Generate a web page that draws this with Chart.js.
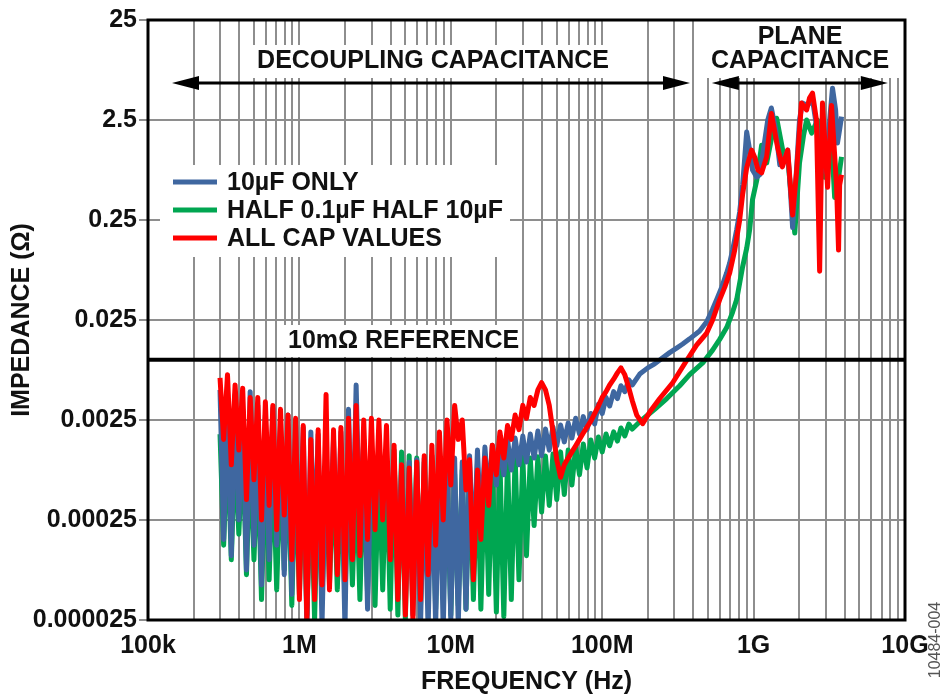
<!DOCTYPE html>
<html lang="en">
<head>
<meta charset="UTF-8">
<title>PDN Impedance</title>
<script src="https://cdn.jsdelivr.net/npm/chart.js"></script>
<style>
    body { margin: 0; background: #fff; }
</style>
</head>
<body>
<canvas id="impedanceChart" width="947" height="695"></canvas>
<script>
    // sweep frequencies (Hz) of the noisy low band, shared by the three traces
    const freqLow = [
        2.99e5, 3.16e5, 3.35e5, 3.55e5, 3.76e5, 3.98e5, 4.22e5, 4.47e5, 4.73e5, 5.01e5,
        5.31e5, 5.62e5, 5.96e5, 6.31e5, 6.68e5, 7.08e5, 7.50e5, 7.94e5, 8.41e5, 8.91e5,
        9.44e5, 1.00e6, 1.06e6, 1.12e6, 1.19e6, 1.26e6, 1.33e6, 1.41e6, 1.50e6, 1.58e6,
        1.68e6, 1.78e6, 1.88e6, 2.00e6, 2.11e6, 2.24e6, 2.37e6, 2.51e6, 2.66e6, 2.82e6,
        2.99e6, 3.16e6, 3.35e6, 3.55e6, 3.76e6, 3.98e6, 4.22e6, 4.47e6, 4.73e6, 5.01e6,
        5.31e6, 5.62e6, 5.96e6, 6.31e6, 6.68e6, 7.08e6, 7.50e6, 7.94e6, 8.41e6, 8.91e6,
        9.44e6, 1.00e7, 1.06e7, 1.12e7, 1.19e7, 1.26e7, 1.33e7, 1.41e7, 1.50e7, 1.58e7,
        1.68e7, 1.78e7, 1.88e7, 2.00e7, 2.11e7, 2.24e7, 2.37e7, 2.51e7, 2.66e7, 2.82e7,
        2.99e7, 3.16e7, 3.35e7, 3.55e7, 3.76e7, 3.98e7, 4.22e7, 4.47e7, 4.73e7, 5.01e7,
        5.31e7, 5.62e7, 5.96e7, 6.31e7, 6.68e7, 7.08e7, 7.50e7, 7.94e7, 8.41e7, 8.91e7,
        9.44e7, 1.00e8, 1.06e8, 1.12e8, 1.19e8, 1.26e8, 1.33e8, 1.41e8, 1.50e8, 1.58e8
    ];

    // impedance (ohm), alternating upper / lower edge of the noise
    const blueLowZ = [
        5.0e-3, 1.6e-4, 4.0e-3, 1.1e-4, 4.5e-3, 2.5e-4, 3.2e-3, 7.9e-5, 4.8e-3, 1.4e-4,
        3.5e-3, 5.6e-5, 2.8e-3, 1.0e-4, 3.3e-3, 1.4e-4, 2.5e-3, 7.1e-5, 2.8e-3, 4.5e-5,
        2.2e-3, 1.0e-4, 2.1e-3, 2.0e-5, 1.9e-3, 1.25e-4, 1.8e-3, 2.2e-5, 1.4e-3, 1.4e-4,
        1.6e-3, 1.0e-4, 1.9e-3, 2.0e-5, 3.2e-3, 1.0e-4, 5.6e-3, 1.6e-4, 1.6e-3, 3.2e-5,
        1.25e-3, 2.5e-4, 1.1e-3, 2.8e-4, 1.04e-3, 1.6e-4, 1.0e-3, 6.3e-5, 8.9e-4, 4.0e-5,
        9.5e-4, 2.8e-5, 1.0e-3, 2.2e-5, 1.04e-3, 2.0e-5, 1.1e-3, 2.2e-5, 1.1e-3, 2.0e-5,
        1.17e-3, 2.5e-5, 1.04e-3, 2.2e-5, 9.5e-4, 3.2e-5, 1.1e-3, 1.0e-4, 1.25e-3, 2.0e-4,
        1.34e-3, 4.0e-4, 1.4e-3, 5.6e-4, 1.5e-3, 7.1e-4, 1.6e-3, 7.9e-4, 1.65e-3, 8.9e-4,
        1.73e-3, 9.5e-4, 1.81e-3, 1.04e-3, 1.94e-3, 1.1e-3, 2.03e-3, 1.25e-3, 2.13e-3, 1.38e-3,
        2.23e-3, 1.51e-3, 2.33e-3, 1.65e-3, 2.6e-3, 1.81e-3, 2.7e-3, 2.0e-3, 2.9e-3, 2.28e-3,
        3.6e-3, 2.9e-3, 4.2e-3, 3.45e-3, 4.8e-3, 4.1e-3, 5.5e-3, 4.8e-3, 6.3e-3, 5.6e-3
    ];
    const greenLowZ = [
        1.8e-3, 1.4e-4, 1.6e-3, 1.0e-4, 1.4e-3, 1.8e-4, 1.5e-3, 7.1e-5, 1.25e-3, 1.0e-4,
        1.1e-3, 4.0e-5, 1.04e-3, 6.3e-5, 1.1e-3, 5.0e-5, 9.5e-4, 7.9e-5, 1.0e-3, 3.5e-5,
        8.9e-4, 4.5e-5, 8.3e-4, 2.8e-5, 7.9e-4, 2.5e-5, 7.1e-4, 4.0e-5, 7.6e-4, 5.6e-5,
        7.9e-4, 5.0e-5, 7.1e-4, 4.0e-5, 7.9e-4, 5.6e-5, 7.6e-4, 4.0e-5, 8.9e-4, 4.5e-5,
        9.5e-4, 3.5e-5, 1.0e-3, 5.0e-5, 1.1e-3, 3.2e-5, 1.25e-3, 2.8e-5, 1.2e-3, 2.5e-5,
        1.1e-3, 4.0e-5, 1.04e-3, 3.5e-5, 9.5e-4, 4.5e-5, 8.3e-4, 3.2e-5, 7.6e-4, 4.0e-5,
        7.1e-4, 2.8e-5, 7.2e-4, 3.5e-5, 7.9e-4, 3.2e-5, 8.7e-4, 4.0e-5, 9.1e-4, 3.2e-5,
        9.5e-4, 4.5e-5, 1.0e-3, 3.0e-5, 1.02e-3, 2.7e-5, 1.04e-3, 4.0e-5, 1.09e-3, 6.3e-5,
        1.07e-3, 1.1e-4, 1.04e-3, 2.2e-4, 1.07e-3, 3.0e-4, 1.09e-3, 3.5e-4, 1.14e-3, 4.0e-4,
        1.2e-3, 4.5e-4, 1.25e-3, 5.6e-4, 1.34e-3, 7.1e-4, 1.44e-3, 8.3e-4, 1.58e-3, 1.04e-3,
        1.69e-3, 1.2e-3, 1.81e-3, 1.38e-3, 1.9e-3, 1.54e-3, 2.08e-3, 1.73e-3, 2.28e-3, 2.03e-3
    ];
    const redLowZ = [
        6.6e-3, 1.6e-3, 7.1e-3, 8.9e-4, 5.6e-3, 1.25e-3, 5.2e-3, 4.0e-4, 4.2e-3, 6.3e-4,
        4.2e-3, 2.5e-4, 3.8e-3, 3.5e-4, 3.5e-3, 2.0e-4, 3.2e-3, 2.8e-4, 2.8e-3, 1.0e-4,
        2.6e-3, 4.0e-5, 2.2e-3, 2.5e-5, 1.6e-3, 4.0e-5, 2.0e-3, 5.6e-5, 4.5e-3, 5.0e-5,
        2.0e-3, 7.1e-5, 2.1e-3, 6.3e-5, 2.6e-3, 1.0e-4, 3.5e-3, 1.1e-4, 2.5e-3, 1.6e-4,
        2.6e-3, 2.0e-4, 2.5e-3, 2.5e-4, 2.2e-3, 1.0e-4, 1.4e-3, 4.0e-5, 8.9e-4, 2.8e-5,
        8.3e-4, 2.5e-5, 9.5e-4, 4.0e-5, 1.1e-3, 7.1e-5, 1.4e-3, 1.4e-4, 1.9e-3, 2.5e-4,
        2.5e-3, 5.6e-4, 3.5e-3, 1.6e-3, 2.5e-3, 5.0e-4, 1.0e-3, 6.3e-5, 7.9e-4, 1.6e-4,
        1.04e-3, 3.5e-4, 1.4e-3, 7.1e-4, 1.9e-3, 1.04e-3, 2.2e-3, 1.6e-3, 2.8e-3, 2.0e-3,
        3.5e-3, 2.6e-3, 4.2e-3, 3.5e-3, 5.0e-3, 5.9e-3, 5.0e-3, 3.5e-3, 1.9e-3, 1.0e-3,
        6.7e-4, 8.9e-4, 1.04e-3, 1.2e-3, 1.38e-3, 1.6e-3, 1.85e-3, 2.13e-3, 2.44e-3, 2.9e-3,
        3.45e-3, 4.2e-3, 4.8e-3, 5.6e-3, 6.4e-3, 7.4e-3, 8.3e-3, 7.1e-3, 5.2e-3, 3.9e-3
    ];

    // upper band: inductive rise and plane resonances, each trace its own samples
    const blueHighF = [
        1.77e8, 2.00e8, 2.22e8, 2.51e8, 2.79e8, 3.10e8, 3.40e8, 3.78e8, 4.40e8, 4.90e8,
        5.36e8, 5.78e8, 6.15e8, 6.64e8, 6.95e8, 7.27e8, 7.73e8, 8.09e8, 8.46e8, 8.72e8,
        9.00e8, 9.42e8, 9.84e8, 1.05e9, 1.10e9, 1.16e9, 1.24e9, 1.31e9, 1.40e9, 1.49e9,
        1.58e9, 1.68e9, 1.75e9, 1.81e9, 1.92e9, 2.01e9, 2.10e9, 2.27e9, 2.45e9, 2.60e9,
        2.73e9, 2.90e9, 3.03e9, 3.18e9, 3.32e9, 3.48e9, 3.58e9, 3.70e9, 3.81e9
    ];
    const blueHighZ = [
        7.2e-3, 8.3e-3, 9.1e-3, 0.0105, 0.0118, 0.0131, 0.0144, 0.0162, 0.0194, 0.024,
        0.032, 0.042, 0.053, 0.074, 0.093, 0.125, 0.20, 0.30, 0.56, 1.0,
        1.9, 1.25, 0.79, 0.67, 0.71, 1.25, 2.5, 3.3, 2.0, 0.89,
        1.0, 1.25, 0.50, 0.21, 0.79, 2.5, 3.7, 3.5, 4.0, 2.2,
        1.34, 0.79, 0.74, 2.5, 5.2, 3.15, 1.47, 2.0, 2.7
    ];
    const greenHighF = [
        1.77e8, 2.22e8, 2.67e8, 3.25e8, 3.78e8, 4.61e8, 5.36e8, 5.97e8, 6.64e8, 7.27e8,
        7.73e8, 8.46e8, 9.00e8, 9.42e8, 9.84e8, 1.05e9, 1.13e9, 1.22e9, 1.31e9, 1.42e9,
        1.51e9, 1.60e9, 1.68e9, 1.78e9, 1.87e9, 2.01e9, 2.14e9, 2.24e9, 2.42e9, 2.64e9,
        2.81e9, 2.94e9, 3.13e9, 3.27e9, 3.43e9, 3.58e9, 3.81e9
    ];
    const greenHighZ = [
        2.4e-3, 3.2e-3, 4.1e-3, 5.5e-3, 7.1e-3, 9.3e-3, 0.0125, 0.016, 0.021, 0.030,
        0.040, 0.085, 0.13, 0.20, 0.40, 0.63, 1.4, 0.93, 1.6, 2.6,
        1.6, 1.0, 1.07, 0.40, 0.185, 0.93, 1.77, 2.5, 1.85, 2.5,
        1.25, 0.67, 1.0, 1.6, 0.42, 0.56, 1.07
    ];
    const redHighF = [
        1.69e8, 1.85e8, 2.06e8, 2.40e8, 2.92e8, 3.56e8, 4.20e8, 4.90e8, 5.36e8, 5.97e8,
        6.44e8, 6.95e8, 7.50e8, 8.09e8, 8.46e8, 9.00e8, 9.70e8, 1.02e9, 1.07e9, 1.13e9,
        1.22e9, 1.31e9, 1.44e9, 1.55e9, 1.68e9, 1.81e9, 1.92e9, 2.07e9, 2.24e9, 2.34e9,
        2.45e9, 2.60e9, 2.73e9, 2.85e9, 3.08e9, 3.27e9, 3.53e9, 3.64e9, 3.70e9, 3.81e9
    ];
    const redHighZ = [
        2.8e-3, 2.3e-3, 3.0e-3, 4.1e-3, 5.9e-3, 9.5e-3, 0.014, 0.0185, 0.025, 0.040,
        0.053, 0.074, 0.125, 0.25, 0.45, 0.83, 1.25, 1.05, 0.79, 0.74,
        1.07, 2.9, 1.34, 0.85, 1.25, 0.28, 0.74, 3.7, 3.15, 4.15,
        4.65, 2.5, 0.077, 3.7, 0.53, 3.5, 0.56, 0.125, 0.56, 0.71
    ];

    const seriesLabels = ['10µF ONLY', 'HALF 0.1µF HALF 10µF', 'ALL CAP VALUES'];
    const seriesColors = ['#3f67a0', '#00a651', '#ff0000'];

    const xDecades = [1e5, 1e6, 1e7, 1e8, 1e9, 1e10];
    const xDecadeLabels = ['100k', '1M', '10M', '100M', '1G', '10G'];
    const yTicks = [0.000025, 0.00025, 0.0025, 0.025, 0.25, 2.5, 25];
    const yTickLabels = ['0.000025', '0.00025', '0.0025', '0.025', '0.25', '2.5', '25'];

    const refLevel = 0.01;                  // 10 mΩ reference
    const decouplingSpan = [1.44e5, 3.8e8]; // Hz, arrow ends
    const planeSpan = [5.3e8, 7.7e9];

    // minor grid: 1..9 in every decade
    const xGrid = [];
    xDecades.forEach((d, k) => {
        const steps = k < xDecades.length - 1 ? 9 : 1;
        for (let m = 1; m <= steps; m++) xGrid.push(d * m);
    });

    function toPoints(freqs, values) {
        return freqs.map((f, i) => ({ x: f, y: values[i] }));
    }
    function findTick(list, value) {
        return list.findIndex(v => Math.abs(value / v - 1) < 1e-6);
    }

    const FONT = 'bold 25px "Liberation Sans", Arial, sans-serif';

    function drawArrow(ctx, x1, x2, y) {
        const head = 27, half = 7;
        ctx.lineWidth = 3;
        ctx.beginPath();
        ctx.moveTo(x1 + head - 2, y);
        ctx.lineTo(x2 - head + 2, y);
        ctx.stroke();
        ctx.beginPath();
        ctx.moveTo(x1, y); ctx.lineTo(x1 + head, y - half); ctx.lineTo(x1 + head, y + half);
        ctx.closePath(); ctx.fill();
        ctx.beginPath();
        ctx.moveTo(x2, y); ctx.lineTo(x2 - head, y - half); ctx.lineTo(x2 - head, y + half);
        ctx.closePath(); ctx.fill();
    }

    // white boxes behind the in-plot labels, they hide the grid like in the original
    const labelBoxes = [
        [250, 45, 365, 33],   // DECOUPLING CAPACITANCE
        [705, 21, 196, 57],   // PLANE CAPACITANCE
        [160, 165, 350, 92],  // legend
        [280, 325, 242, 32]   // 10mΩ REFERENCE
    ];

    const overlay = {
        id: 'overlay',
        beforeDatasetsDraw(chart) {
            const ctx = chart.ctx;
            ctx.save();
            ctx.fillStyle = '#ffffff';
            labelBoxes.forEach(b => ctx.fillRect(b[0], b[1], b[2], b[3]));
            ctx.restore();
        },
        afterDatasetsDraw(chart) {
            const { ctx, chartArea: a, scales } = chart;
            const xs = scales.x, ys = scales.y;
            ctx.save();
            ctx.strokeStyle = '#000';
            ctx.fillStyle = '#000';

            const yRef = ys.getPixelForValue(refLevel);
            ctx.lineWidth = 4;
            ctx.beginPath();
            ctx.moveTo(a.left, yRef);
            ctx.lineTo(a.right, yRef);
            ctx.stroke();

            ctx.lineWidth = 3;
            ctx.strokeRect(a.left, a.top, a.right - a.left, a.bottom - a.top);

            drawArrow(ctx, xs.getPixelForValue(decouplingSpan[0]), xs.getPixelForValue(decouplingSpan[1]), 83);
            drawArrow(ctx, xs.getPixelForValue(planeSpan[0]), xs.getPixelForValue(planeSpan[1]), 83);

            ctx.font = FONT;
            ctx.fillStyle = '#111';
            ctx.textBaseline = 'middle';
            ctx.textAlign = 'center';
            ctx.fillText('DECOUPLING CAPACITANCE', 433, 61);
            ctx.fillText('PLANE', 800, 37);
            ctx.fillText('CAPACITANCE', 800, 61);
            ctx.textAlign = 'left';
            ctx.fillText('10mΩ REFERENCE', 288, 341);

            // legend
            chart.data.datasets.forEach((ds, i) => {
                const ly = 182 + i * 28;
                ctx.strokeStyle = ds.borderColor;
                ctx.lineWidth = 5;
                ctx.beginPath();
                ctx.moveTo(173, ly);
                ctx.lineTo(217, ly);
                ctx.stroke();
                ctx.fillText(ds.label, 227, ly + 1);
            });

            // figure number
            ctx.translate(936, 640);
            ctx.rotate(-Math.PI / 2);
            ctx.font = '16px "Liberation Sans", Arial, sans-serif';
            ctx.fillStyle = '#555';
            ctx.textAlign = 'center';
            ctx.fillText('10484-004', 0, 0);
            ctx.restore();
        }
    };

    Chart.defaults.font.family = '"Liberation Sans", Arial, sans-serif';

    const ctx = document.getElementById('impedanceChart').getContext('2d');
    new Chart(ctx, {
        type: 'line',
        data: {
            datasets: [
                {
                    label: seriesLabels[0],
                    data: toPoints(freqLow, blueLowZ).concat(toPoints(blueHighF, blueHighZ)),
                    borderColor: seriesColors[0],
                    order: 2
                },
                {
                    label: seriesLabels[1],
                    data: toPoints(freqLow, greenLowZ).concat(toPoints(greenHighF, greenHighZ)),
                    borderColor: seriesColors[1],
                    order: 3
                },
                {
                    label: seriesLabels[2],
                    data: toPoints(freqLow, redLowZ).concat(toPoints(redHighF, redHighZ)),
                    borderColor: seriesColors[2],
                    order: 1
                }
            ]
        },
        options: {
            responsive: false,
            animation: false,
            devicePixelRatio: 1,
            layout: { padding: { top: 20, right: 42, bottom: 0, left: 0 } },
            elements: {
                point: { radius: 0 },
                line: { borderWidth: 5, tension: 0, borderJoinStyle: 'round' }
            },
            plugins: {
                legend: { display: false },
                tooltip: { enabled: false }
            },
            scales: {
                x: {
                    type: 'logarithmic',
                    min: 1e5,
                    max: 1e10,
                    afterBuildTicks: s => { s.ticks = xGrid.map(v => ({ value: v })); },
                    afterFit: s => { s.height = 75; },
                    grid: { color: '#8e8e8e', lineWidth: 2, drawTicks: false },
                    border: { display: false },
                    ticks: {
                        autoSkip: false,
                        maxRotation: 0,
                        padding: 11,
                        color: '#111',
                        font: { size: 25, weight: 'bold' },
                        callback: v => {
                            const k = findTick(xDecades, v);
                            return k < 0 ? '' : xDecadeLabels[k];
                        }
                    },
                    title: {
                        display: true,
                        text: 'FREQUENCY (Hz)',
                        color: '#111',
                        font: { size: 25, weight: 'bold', lineHeight: 1 },
                        padding: { top: 0, bottom: 0 }
                    }
                },
                y: {
                    type: 'logarithmic',
                    min: 0.000025,
                    max: 25,
                    afterBuildTicks: s => { s.ticks = yTicks.map(v => ({ value: v })); },
                    afterFit: s => { s.width = 148; },
                    grid: { color: '#8e8e8e', lineWidth: 2, tickLength: 9 },
                    border: { display: false },
                    ticks: {
                        autoSkip: false,
                        padding: 2,
                        color: '#111',
                        font: { size: 25, weight: 'bold' },
                        callback: v => {
                            const k = findTick(yTicks, v);
                            return k < 0 ? '' : yTickLabels[k];
                        }
                    },
                    title: {
                        display: true,
                        text: 'IMPEDANCE (Ω)',
                        color: '#111',
                        font: { size: 25, weight: 'bold', lineHeight: 1 },
                        padding: { top: 10, bottom: 0 }
                    }
                }
            }
        },
        plugins: [overlay]
    });
</script>
</body>
</html>
